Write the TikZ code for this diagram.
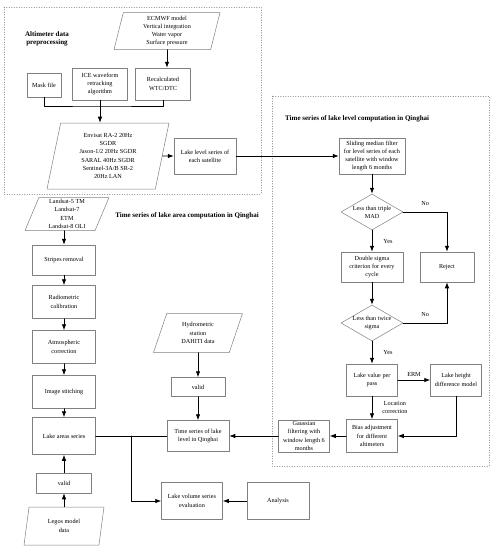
\documentclass[tikz,border=0pt]{standalone}
\usepackage{fontspec}
\setmainfont{Liberation Serif}
\usetikzlibrary{shapes.geometric,arrows.meta}

\tikzset{
  box/.style={draw=black!50, line width=0.5pt, rectangle, align=center, inner sep=1pt,
    font=\fontsize{6.2}{8.3}\selectfont},
  databox/.style={box, trapezium, trapezium left angle=74, trapezium right angle=106,
    trapezium stretches body},
  decision/.style={draw=black!50, line width=0.5pt, diamond, inner sep=0pt,
    minimum width=62pt, minimum height=36pt},
  flow/.style={-{Latex[length=6pt,width=4.5pt]}, line width=0.8pt},
  lbl/.style={font=\fontsize{6.2}{8.3}\selectfont, inner sep=1pt, align=center},
  frame/.style={draw=black!50, dotted, line width=0.5pt},
  heading/.style={font=\fontsize{7}{8.4}\selectfont\bfseries, align=center, inner sep=0pt}
}

\begin{document}
\begin{tikzpicture}[x=1pt,y=-1pt,line cap=round,line join=round]
    \useasboundingbox (0,0) rectangle (495,550);

    % Marcos punteados
    \draw[frame] (4,7) rectangle (261,194);
    \draw[frame] (272,96) rectangle (489,466);
    \node[heading] at (47,39) {Altimeter data\\preprocessing};
    \node[heading,anchor=west] at (285,119) {Time series of lake level computation in Qinghai};
    \node[heading] at (187,216) {Time series of lake area computation in Qinghai};

    % Preprocesado altimetrico
    \node[databox,minimum width=106pt,minimum height=37pt] (ecmwf) at (167,31)
        {ECMWF model\\Vertical integration\\Water vapor\\Surface pressure};
    \node[box,minimum width=34pt,minimum height=24pt] (mask) at (44,85) {Mask file};
    \node[box,minimum width=55pt,minimum height=32pt] (ice) at (100,84)
        {ICE waveform\\retracking\\algorithm};
    \node[box,minimum width=55pt,minimum height=32pt] (recalc) at (163,84)
        {Recalculated\\WTC/DTC};
    \node[databox,minimum width=122pt,minimum height=66pt] (envisat) at (108,156)
        {Envisat RA-2 20Hz\\SGDR\\Jason-1/2 20Hz SGDR\\SARAL 40Hz SGDR\\Sentinel-3A/B SR-2\\20Hz LAN};
    \node[box,minimum width=62pt,minimum height=36pt] (lakesat) at (205,156)
        {Lake level series of\\each satellite};
    \coordinate (jn) at (100,106);

    \draw[flow] (ecmwf.south) -- (ecmwf.south |- recalc.north);
    \draw[line width=0.8pt] (mask.south) |- (jn) -| (recalc.south);
    \draw[line width=0.8pt] (ice.south) -- (ice.south |- jn);
    \draw[flow] (jn) -- (jn |- envisat.north);
    \draw[flow] (envisat) -- (lakesat);

    % Serie de nivel del lago
    \node[box,minimum width=66pt,minimum height=36pt] (sliding) at (372,156)
        {Sliding median filter\\for level series of each\\satellite with window\\length 6 months};
    \node[decision,label={[lbl]center:Less than triple\\MAD}] (mad) at (372,212) {};
    \node[box,minimum width=62pt,minimum height=30pt] (dsigma) at (372,267)
        {Double sigma\\criterion for every\\cycle};
    \node[box,minimum width=54pt,minimum height=30pt] (reject) at (447,267) {Reject};
    \node[decision,label={[lbl]center:Less than twice\\sigma}] (tsigma) at (372,323) {};
    \node[box,minimum width=51pt,minimum height=32pt] (lakeval) at (372,380)
        {Lake value per\\pass};
    \node[box,minimum width=51pt,minimum height=32pt] (lakeheight) at (456,380)
        {Lake height\\difference model};
    \node[box,minimum width=51pt,minimum height=33pt] (bias) at (372,436)
        {Bias adjustment\\for different\\altimeters};
    \node[box,minimum width=51pt,minimum height=32pt] (gauss) at (304,436)
        {Gaussian\\filtering with\\window length 6\\months};

    \draw[flow] (lakesat) -- (sliding);
    \draw[flow] (sliding) -- (mad);
    \draw[flow] (mad) -- node[lbl,right=10pt] {Yes} (dsigma);
    \draw[flow] (mad.east) -| node[lbl,pos=0.25,above=5pt] {No} (reject.north);
    \draw[flow] (dsigma) -- (tsigma);
    \draw[flow] (tsigma.east) -| node[lbl,pos=0.25,above=5pt] {No} (reject.south);
    \draw[flow] (tsigma) -- node[lbl,right=10pt] {Yes} (lakeval);
    \draw[flow] (lakeval) -- node[lbl,above=2pt] {ERM} (lakeheight);
    \draw[flow] (lakeval) -- node[lbl,right=9pt] {Location\\correction} (bias);
    \draw[flow] (lakeheight.south) |- (bias.east);
    \draw[flow] (bias) -- (gauss);

    % Serie de area del lago
    \node[databox,trapezium left angle=66,trapezium right angle=114,
        minimum width=84pt,minimum height=33pt] (landsat) at (67,214)
        {Landsat-5 TM\\Landsat-7\\ETM\\Landsat-8 OLI};
    \node[box,minimum width=63pt,minimum height=30pt] (stripes) at (64,260) {Stripes removal};
    \node[box,minimum width=63pt,minimum height=33pt] (radio) at (64,302)
        {Radiometric\\calibration};
    \node[box,minimum width=63pt,minimum height=33pt] (atmos) at (64,347)
        {Atmospheric\\correction};
    \node[box,minimum width=63pt,minimum height=33pt] (stitch) at (64,392) {Image stitching};
    \node[box,minimum width=63pt,minimum height=37pt] (areas) at (64,436) {Lake areas series};
    \node[box,minimum width=55pt,minimum height=20pt] (validl) at (64,483) {valid};
    \node[databox,trapezium left angle=71,trapezium right angle=109,
        minimum width=80pt,minimum height=38pt] (legos) at (64,526) {Legos model\\data};

    \draw[flow] (stripes.north |- landsat.south) -- (stripes.north);
    \foreach \a/\b in {stripes/radio,radio/atmos,atmos/stitch,stitch/areas}
        \draw[flow] (\a) -- (\b);
    \draw[flow] (validl.south |- legos.north) -- (validl.south);
    \draw[flow] (validl) -- (areas);

    % Series temporales y volumen
    \node[databox,trapezium left angle=60,trapezium right angle=120,
        minimum width=89pt,minimum height=39pt] (hydro) at (198,333)
        {Hydrometric\\station\\DAHITI data};
    \node[box,minimum width=54pt,minimum height=19pt] (validh) at (198,387) {valid};
    \node[box,minimum width=62pt,minimum height=31pt] (tslevel) at (198,436)
        {Time series of lake\\level in Qinghai};
    \node[box,minimum width=61pt,minimum height=37pt] (volume) at (192,501)
        {Lake volume series\\evaluation};
    \node[box,minimum width=62pt,minimum height=37pt] (analysis) at (278,501) {Analysis};
    \coordinate (br) at (131,436);

    \draw[flow] (validh.north |- hydro.south) -- (validh.north);
    \draw[flow] (validh) -- (tslevel);
    \draw[flow] (gauss) -- (tslevel);
    \draw[line width=0.8pt] (areas) -- (tslevel);
    \draw[flow] (br) |- (volume.west);
    \draw[flow] (analysis) -- (volume);
\end{tikzpicture}
\end{document}
